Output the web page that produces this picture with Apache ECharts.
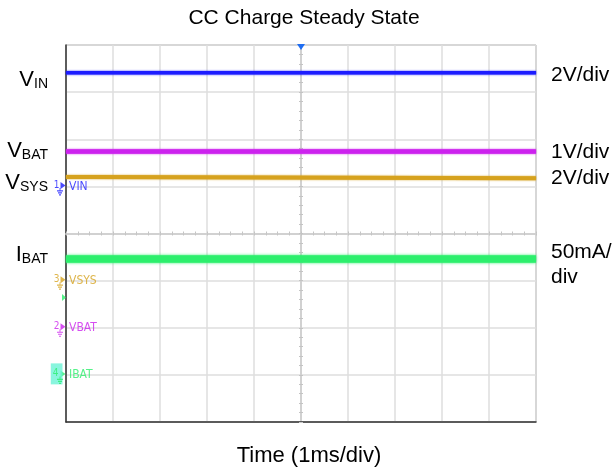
<!DOCTYPE html>
<html><head><meta charset="utf-8">
<script src="https://cdn.jsdelivr.net/npm/echarts@6/dist/echarts.min.js"></script>
<style>html,body{margin:0;padding:0;background:#fff}#c{width:615px;height:470px}</style>
</head><body><div id="c"></div>
<script>
// Oscilloscope screen: 10 horizontal divisions (1 ms/div), 8 vertical divisions
const timeDivs = [0, 10];
const vertDivs = [0, 8];
// trace levels, in screen divisions (0 = bottom edge, 8 = top edge)
const vinTrace  = [[0, 7.41], [10, 7.41]];
const vbatTrace = [[0, 5.74], [10, 5.74]];
const vsysTrace = [[0, 5.20], [0.49, 5.20], [0.49, 5.17], [10, 5.17]];
const ibatTrace = [[0, 3.46], [10, 3.46]];
// channel ground markers
const channelNames  = ['VIN', 'VSYS', 'VBAT', 'IBAT'];
const channelNums   = ['1', '3', '2', '4'];
const channelGround = [5, 3, 2, 1];
const triggerLevel  = 2.64;
const triggerTime   = 5;
// text labels
const titleText = 'CC Charge Steady State';
const xTitle = 'Time (1ms/div)';
const leftLabels = [['V', 'IN'], ['V', 'BAT'], ['V', 'SYS'], ['I', 'BAT']];
const scaleLabels = ['2V/div', '1V/div', '2V/div', '50mA/', 'div'];

const COLORS = {VIN: '#1c1cff', VSYS: '#d6a21e', VBAT: '#cc22ee', IBAT: '#2cef6c'};
const FONT = '"Liberation Sans", Arial, sans-serif';
const SMALL = '"DejaVu Sans Condensed", "DejaVu Sans", sans-serif';
const GRID = '#dedede';

const chart = echarts.init(document.getElementById('c'), null, {renderer: 'canvas'});

function lineSeries(name, data, width, blur) {
  return {
    name, type: 'line', data, xAxisIndex: 0, yAxisIndex: 0,
    showSymbol: false, symbol: 'none', silent: true, animation: false, z: 5,
    lineStyle: {color: COLORS[name], width, shadowColor: COLORS[name], shadowBlur: blur}
  };
}

const arrowData = channelNames.map((n, i) => ({
  value: [0, channelGround[i]],
  itemStyle: {color: COLORS[n]},
  label: {
    formatter: channelNums[i], color: COLORS[n],
    backgroundColor: n === 'IBAT' ? '#6cf3d6' : 'transparent',
    padding: n === 'IBAT' ? [1, 4, 10, 2] : 0,
    distance: n === 'IBAT' ? -2 : 1
  }
}));
const nameData = channelNames.map((n, i) => ({
  value: [0, channelGround[i]],
  label: {formatter: n, color: COLORS[n]}
}));
const groundData = channelNames.map((n, i) => ({
  value: [0, channelGround[i]],
  itemStyle: {borderColor: COLORS[n]}
}));

const leftY = [80, 151, 183, 255];
const rightY = [75, 152.5, 178, 252.5, 277.5];

const graphic = [
  {type: 'text', x: 304, y: 18, style: {text: titleText, font: '21px ' + FONT, fill: '#000', align: 'center', verticalAlign: 'middle'}},
  {type: 'text', x: 309, y: 456, style: {text: xTitle, font: '22px ' + FONT, fill: '#000', align: 'center', verticalAlign: 'middle'}}
];
leftLabels.forEach((l, i) => {
  graphic.push({type: 'text', x: 48, y: leftY[i], style: {
    text: '{v|' + l[0] + '}{s|' + l[1] + '}', align: 'right', verticalAlign: 'middle',
    rich: {
      v: {fontSize: 22, fontFamily: FONT, fill: '#000', verticalAlign: 'bottom', lineHeight: 22},
      s: {fontSize: 14, fontFamily: FONT, fill: '#000', verticalAlign: 'bottom', lineHeight: 12}
    }
  }});
});
scaleLabels.forEach((t, i) => {
  graphic.push({type: 'text', x: 551, y: rightY[i], style: {text: t, font: '21px ' + FONT, fill: '#000', align: 'left', verticalAlign: 'middle'}});
});

const centerAxisX = (inside) => ({type: 'value', min: timeDivs[0], max: timeDivs[1], interval: 0.25,
  axisLine: {onZero: true, onZeroAxisIndex: 1, lineStyle: {color: '#cfcfcf', width: 1.5}},
  axisTick: {show: true, inside, length: 2, lineStyle: {color: '#c4c4c4'}}, axisLabel: {show: false}, splitLine: {show: false}});
const centerAxisY = (inside) => ({type: 'value', min: vertDivs[0], max: vertDivs[1], interval: 0.2,
  axisLine: {show: true, onZero: true, onZeroAxisIndex: 3, lineStyle: {color: '#cfcfcf', width: 1.5}},
  axisTick: {show: true, inside, length: 2, lineStyle: {color: '#c4c4c4'}}, axisLabel: {show: false}, splitLine: {show: false}});

const option = {
  backgroundColor: '#fff',
  animation: false,
  grid: {left: 66, top: 45, right: 79, bottom: 48, show: true, borderColor: '#888', borderWidth: 1, backgroundColor: 'transparent'},
  xAxis: [
    {type: 'value', min: timeDivs[0], max: timeDivs[1], interval: 1, position: 'bottom',
      axisLine: {onZero: false, lineStyle: {color: '#333', width: 1.5}}, axisTick: {show: false}, axisLabel: {show: false},
      splitLine: {show: true, lineStyle: {color: GRID, width: 1.5}}},
    centerAxisX(false), centerAxisX(true),
    {type: 'value', min: -5, max: 5, show: false}
  ],
  yAxis: [
    {type: 'value', min: vertDivs[0], max: vertDivs[1], interval: 1, position: 'left',
      axisLine: {show: true, onZero: false, lineStyle: {color: '#333', width: 1.5}}, axisTick: {show: false}, axisLabel: {show: false},
      splitLine: {show: true, lineStyle: {color: GRID, width: 1.5}}},
    {type: 'value', min: -4, max: 4, show: false},
    centerAxisY(false), centerAxisY(true)
  ],
  series: [
    Object.assign(lineSeries('VIN', vinTrace, 3.5, 2), {
      markPoint: {silent: true, animation: false, data: [{coord: [triggerTime, vertDivs[1]], symbol: 'triangle', symbolRotate: 180,
        symbolSize: [8, 6], symbolOffset: [0, 2], itemStyle: {color: '#1f6df2'}, label: {show: false}}]}
    }),
    lineSeries('VBAT', vbatTrace, 4.5, 2),
    lineSeries('VSYS', vsysTrace, 4, 2),
    lineSeries('IBAT', ibatTrace, 7.5, 3),
    {type: 'scatter', name: 'arrows', xAxisIndex: 0, yAxisIndex: 0, silent: true, z: 10, clip: false,
      symbol: 'path://M0,0L5,3.5L0,7Z', symbolSize: [5, 7], symbolOffset: [-3, -1],
      label: {show: true, position: 'left', fontSize: 10, fontFamily: SMALL},
      data: arrowData},
    {type: 'scatter', name: 'grounds', xAxisIndex: 0, yAxisIndex: 0, silent: true, z: 11, clip: false,
      symbol: 'path://M3,0L3,3M0,3L6,3M1,5L5,5M2,7L4,7', symbolSize: [6, 7], symbolOffset: [-6, 5],
      itemStyle: {color: 'none', borderWidth: 1},
      data: groundData},
    {type: 'scatter', name: 'names', xAxisIndex: 0, yAxisIndex: 0, silent: true, z: 10, clip: false,
      symbol: 'circle', symbolSize: 0,
      label: {show: true, position: 'right', distance: 3, fontSize: 12, fontFamily: SMALL},
      data: nameData},
    {type: 'scatter', name: 'trigger', xAxisIndex: 0, yAxisIndex: 0, silent: true, z: 10, clip: false,
      symbol: 'path://M0,0L4,3.5L0,7Z', symbolSize: [4, 7], symbolOffset: [-2, 0],
      itemStyle: {color: COLORS.IBAT},
      data: [[0, triggerLevel]]}
  ],
  graphic
};
chart.setOption(option);
</script>
</body></html>
